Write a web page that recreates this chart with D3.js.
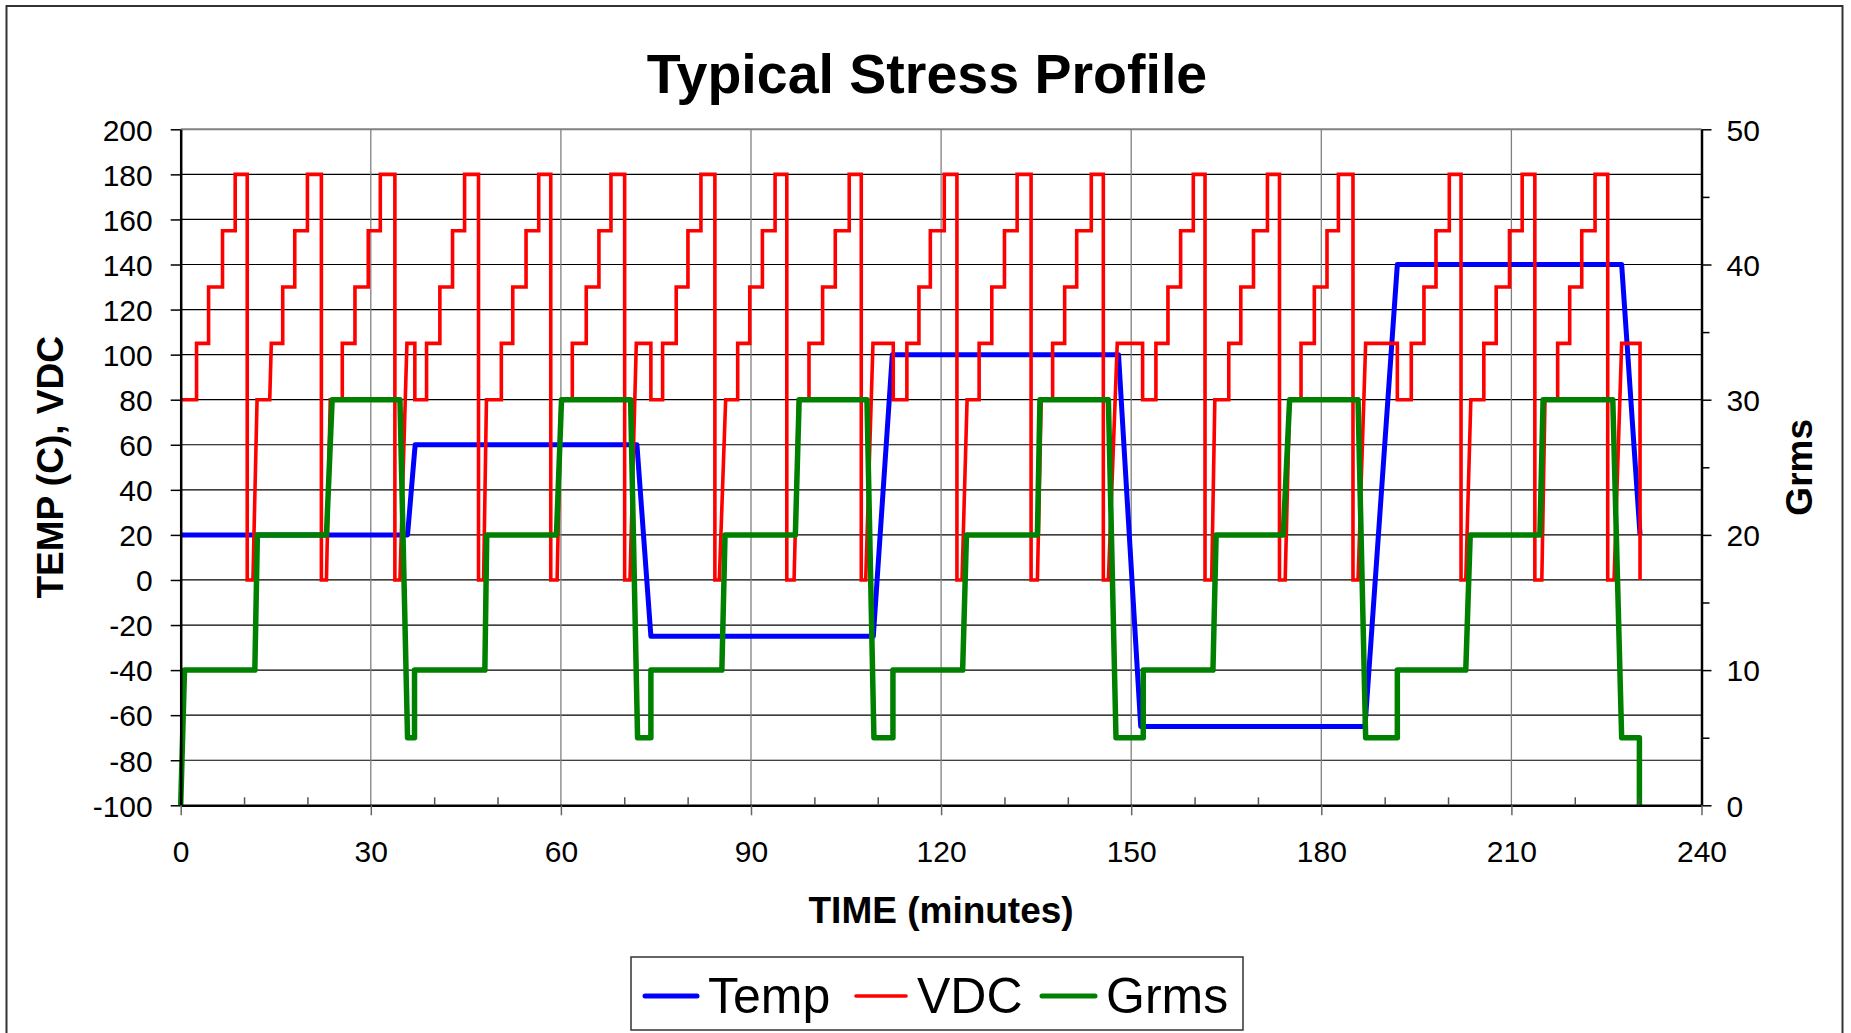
<!DOCTYPE html>
<html>
<head>
<meta charset="utf-8">
<script src="https://cdn.jsdelivr.net/npm/d3@7"></script>
<style>
  html, body { margin: 0; padding: 0; background: #ffffff; }
  svg { display: block; }
  text { font-family: "Liberation Sans", Arial, sans-serif; fill: #000; }
</style>
</head>
<body>
<svg id="chart" width="1851" height="1033"></svg>
<script>
// ---------------- DATA ----------------
const chartTitle = "Typical Stress Profile";
const xTitle = "TIME (minutes)";
const yLeftTitle = "TEMP (C), VDC";
const yRightTitle = "Grms";
const seriesNames = ["Temp", "VDC", "Grms"];
const seriesColors = ["#0000FF", "#FF0000", "#008000"];

const xTicks = [0, 30, 60, 90, 120, 150, 180, 210, 240];
const xMinorTicks = [10, 20, 40, 50, 70, 80, 100, 110, 130, 140, 160, 170, 190, 200, 220, 230];
const yLeftTicks = [-100, -80, -60, -40, -20, 0, 20, 40, 60, 80, 100, 120, 140, 160, 180, 200];
const yRightTicks = [0, 10, 20, 30, 40, 50];
const yRightMinorTicks = [5, 15, 25, 35, 45];

// Temp (C) : [minutes, value]
const tempData = [
  [0,20],[35.8,20],[37.0,60],[72.0,60],[74.2,-25],[109.3,-25],[112.3,100],
  [148.0,100],[151.5,-65],[186.9,-65],[192.0,140],[227.4,140],[230.3,20]
];

// VDC : [minutes, value]
const vdcData = [
  [0,80],[2.5,80],[2.5,105],[4.4,105],[4.4,130],[6.6,130],[6.6,155],[8.6,155],[8.6,180],[10.5,180],[10.5,0],[11.4,0],
  [12.05,80],[14.05,80],[14.3,105],[16.1,105],[16.1,130],[18.0,130],[18.0,155],[20.0,155],[20.0,180],[22.2,180],[22.2,0],[23.0,0],
  [23.6,80],[25.5,80],[25.5,105],[27.5,105],[27.5,130],[29.6,130],[29.6,155],[31.5,155],[31.5,180],[33.8,180],[33.8,0],[34.6,0],
  [35.7,105],[36.95,105],[36.95,80],[38.8,80],[38.8,105],[40.9,105],[40.9,130],[42.9,130],[42.9,155],[44.8,155],[44.8,180],[47.0,180],[47.0,0],[47.8,0],
  [48.25,80],[50.6,80],[50.6,105],[52.4,105],[52.4,130],[54.5,130],[54.5,155],[56.5,155],[56.5,180],[58.4,180],[58.4,0],[59.4,0],
  [60.0,80],[61.8,80],[61.8,105],[64.0,105],[64.0,130],[66.0,130],[66.0,155],[67.9,155],[67.9,180],[70.06,180],[70.06,0],[70.9,0],
  [71.9,105],[74.2,105],[74.2,80],[76.05,80],[76.05,105],[78.2,105],[78.2,130],[80.05,130],[80.05,155],[82.1,155],[82.1,180],[84.3,180],[84.3,0],[85.0,0],
  [86.0,80],[87.9,80],[87.9,105],[89.8,105],[89.8,130],[91.8,130],[91.8,155],[93.8,155],[93.8,180],[95.65,180],[95.65,0],[96.8,0],
  [97.5,80],[99.15,80],[99.15,105],[101.3,105],[101.3,130],[103.3,130],[103.3,155],[105.5,155],[105.5,180],[107.4,180],[107.4,0],[108.1,0],
  [109.25,105],[112.45,105],[112.45,80],[114.6,80],[114.6,105],[116.5,105],[116.5,130],[118.3,130],[118.3,155],[120.5,155],[120.5,180],[122.5,180],[122.5,0],[123.3,0],
  [124.1,80],[126.0,80],[126.0,105],[128.0,105],[128.0,130],[130.0,130],[130.0,155],[132.0,155],[132.0,180],[134.2,180],[134.2,0],[135.2,0],
  [135.8,80],[137.6,80],[137.6,105],[139.5,105],[139.5,130],[141.4,130],[141.4,155],[143.7,155],[143.7,180],[145.6,180],[145.6,0],[146.4,0],
  [147.8,105],[151.8,105],[151.8,80],[153.9,80],[153.9,105],[155.8,105],[155.8,130],[157.8,130],[157.8,155],[159.8,155],[159.8,180],[161.65,180],[161.65,0],[162.7,0],
  [163.2,80],[165.4,80],[165.4,105],[167.3,105],[167.3,130],[169.3,130],[169.3,155],[171.5,155],[171.5,180],[173.4,180],[173.4,0],[174.3,0],
  [175.0,80],[176.8,80],[176.8,105],[178.9,105],[178.9,130],[180.9,130],[180.9,155],[182.7,155],[182.7,180],[185.0,180],[185.0,0],[185.8,0],
  [187.0,105],[192.0,105],[192.0,80],[194.2,80],[194.2,105],[196.2,105],[196.2,130],[198.1,130],[198.1,155],[200.2,155],[200.2,180],[202.05,180],[202.05,0],[202.8,0],
  [203.6,80],[205.65,80],[205.65,105],[207.6,105],[207.6,130],[209.7,130],[209.7,155],[211.7,155],[211.7,180],[213.7,180],[213.7,0],[214.8,0],
  [215.3,80],[217.3,80],[217.3,105],[219.2,105],[219.2,130],[221.1,130],[221.1,155],[223.2,155],[223.2,180],[225.2,180],[225.2,0],[226.2,0],
  [227.4,105],[230.3,105],[230.3,0]
];

// Grms : [minutes, value] (right axis)
const grmsData = [
  [0,0],[0.6,10],[11.7,10],[12.1,20],[23.0,20],[23.9,30],[34.6,30],[35.8,5],[36.9,5],[36.9,10],
  [48.0,10],[48.3,20],[59.3,20],[60.1,30],[71.0,30],[72.1,5],[74.2,5],[74.2,10],
  [85.4,10],[85.9,20],[97.0,20],[97.6,30],[108.3,30],[109.4,5],[112.4,5],[112.4,10],
  [123.4,10],[124.0,20],[135.2,20],[135.6,30],[146.4,30],[147.6,5],[151.9,5],[151.9,10],
  [162.9,10],[163.4,20],[174.0,20],[175.0,30],[185.8,30],[187.0,5],[192.0,5],[192.0,10],
  [202.8,10],[203.5,20],[214.5,20],[215.0,30],[226.0,30],[227.4,5],[230.2,5],[230.2,0]
];

// ---------------- CHART ----------------
const svg = d3.select("#chart");
const plot = { left: 180.7, right: 1701.5, top: 129.3, bottom: 805.3 };

const x = d3.scaleLinear().domain([0, 240]).range([plot.left, plot.right]);
const yL = d3.scaleLinear().domain([-100, 200]).range([plot.bottom, plot.top]);
const yR = d3.scaleLinear().domain([0, 50]).range([plot.bottom, plot.top]);
const plainFmt = d => String(d);

// outer chart border
svg.append("rect").attr("x", 6.5).attr("y", 6).attr("width", 1836).attr("height", 1040)
  .attr("fill", "#fff").attr("stroke", "#333").attr("stroke-width", 2);

// title
svg.append("text").attr("x", 927).attr("y", 93).attr("text-anchor", "middle")
  .attr("font-size", 55.5).attr("font-weight", "bold").text(chartTitle);

// horizontal gridlines
svg.append("g").selectAll("line").data(yLeftTicks.filter(v => v > -100 && v < 200)).join("line")
  .attr("x1", plot.left).attr("x2", plot.right)
  .attr("y1", d => yL(d)).attr("y2", d => yL(d))
  .attr("stroke", "#000").attr("stroke-width", 1.2);

// vertical gridlines
svg.append("g").selectAll("line").data(xTicks.filter(v => v > 0 && v < 240)).join("line")
  .attr("x1", d => x(d)).attr("x2", d => x(d))
  .attr("y1", plot.top).attr("y2", plot.bottom)
  .attr("stroke", "#808080").attr("stroke-width", 1.3);

// top border of plot area
svg.append("line").attr("x1", plot.left).attr("x2", plot.right)
  .attr("y1", plot.top).attr("y2", plot.top).attr("stroke", "#808080").attr("stroke-width", 2);

// series lines
const lineL = d3.line().x(d => x(d[0])).y(d => yL(d[1]));
const lineR = d3.line().x(d => x(d[0])).y(d => yR(d[1]));

svg.append("path").datum(tempData).attr("d", lineL)
  .attr("fill", "none").attr("stroke", seriesColors[0]).attr("stroke-width", 5)
  .attr("stroke-linejoin", "round");
svg.append("path").datum(vdcData).attr("d", lineL)
  .attr("fill", "none").attr("stroke", seriesColors[1]).attr("stroke-width", 3.6)
  .attr("stroke-linejoin", "miter");
svg.append("path").datum(grmsData).attr("d", lineR)
  .attr("fill", "none").attr("stroke", seriesColors[2]).attr("stroke-width", 5.5)
  .attr("stroke-linejoin", "round");

// axes
function styleAxis(g) {
  g.selectAll(".domain").attr("stroke", "#000").attr("stroke-width", 2.5);
  g.selectAll(".tick line").attr("stroke", "#000").attr("stroke-width", 1.5);
  g.selectAll(".tick text").attr("font-size", 30).attr("fill", "#000")
    .attr("font-family", '"Liberation Sans", Arial, sans-serif');
}

// left axis
const gL = svg.append("g").attr("transform", `translate(${plot.left},0)`)
  .call(d3.axisLeft(yL).tickValues(yLeftTicks).tickFormat(plainFmt).tickSize(10).tickPadding(18).tickSizeOuter(0));
styleAxis(gL);
gL.selectAll(".tick text").attr("dy", "0.36em");

// right axis
const gR = svg.append("g").attr("transform", `translate(${plot.right},0)`)
  .call(d3.axisRight(yR).tickValues(yRightTicks).tickFormat(plainFmt).tickSize(10).tickPadding(15).tickSizeOuter(0));
styleAxis(gR);
gR.selectAll(".tick text").attr("dy", "0.36em");
const gRm = svg.append("g").attr("transform", `translate(${plot.right},0)`)
  .call(d3.axisRight(yR).tickValues(yRightMinorTicks).tickSize(8).tickFormat(""));
gRm.select(".domain").remove();
gRm.selectAll(".tick line").attr("stroke", "#000").attr("stroke-width", 1.5);

// bottom axis
const gB = svg.append("g").attr("transform", `translate(0,${plot.bottom})`)
  .call(d3.axisBottom(x).tickValues(xTicks).tickFormat(plainFmt).tickSize(10).tickPadding(25).tickSizeOuter(0));
styleAxis(gB);
gB.selectAll(".tick line").attr("stroke", "#666");
const gBm = svg.append("g").attr("transform", `translate(0,${plot.bottom})`)
  .call(d3.axisTop(x).tickValues(xMinorTicks).tickSize(8).tickFormat(""));
gBm.select(".domain").remove();
gBm.selectAll(".tick line").attr("stroke", "#555").attr("stroke-width", 1.5);

// axis titles
svg.append("text").attr("x", (plot.left + plot.right) / 2).attr("y", 923)
  .attr("text-anchor", "middle").attr("font-size", 37).attr("font-weight", "bold").text(xTitle);
svg.append("text").attr("transform", `translate(63,${(plot.top + plot.bottom) / 2}) rotate(-90)`)
  .attr("text-anchor", "middle").attr("font-size", 37).attr("font-weight", "bold").text(yLeftTitle);
svg.append("text").attr("transform", `translate(1812,${(plot.top + plot.bottom) / 2}) rotate(-90)`)
  .attr("text-anchor", "middle").attr("font-size", 37).attr("font-weight", "bold").text(yRightTitle);

// legend
const leg = svg.append("g");
leg.append("rect").attr("x", 631).attr("y", 957).attr("width", 612).attr("height", 73)
  .attr("fill", "#fff").attr("stroke", "#333").attr("stroke-width", 1.5);
const legItems = [
  { name: seriesNames[0], color: seriesColors[0], w: 5, x1: 645, x2: 697, tx: 708 },
  { name: seriesNames[1], color: seriesColors[1], w: 3.6, x1: 856, x2: 906, tx: 917 },
  { name: seriesNames[2], color: seriesColors[2], w: 5, x1: 1042, x2: 1095, tx: 1106 }
];
legItems.forEach(it => {
  leg.append("line").attr("x1", it.x1).attr("x2", it.x2).attr("y1", 996).attr("y2", 996)
    .attr("stroke", it.color).attr("stroke-width", it.w).attr("stroke-linecap", "round");
  leg.append("text").attr("x", it.tx).attr("y", 1013).attr("font-size", 50).text(it.name);
});
</script>
</body>
</html>
